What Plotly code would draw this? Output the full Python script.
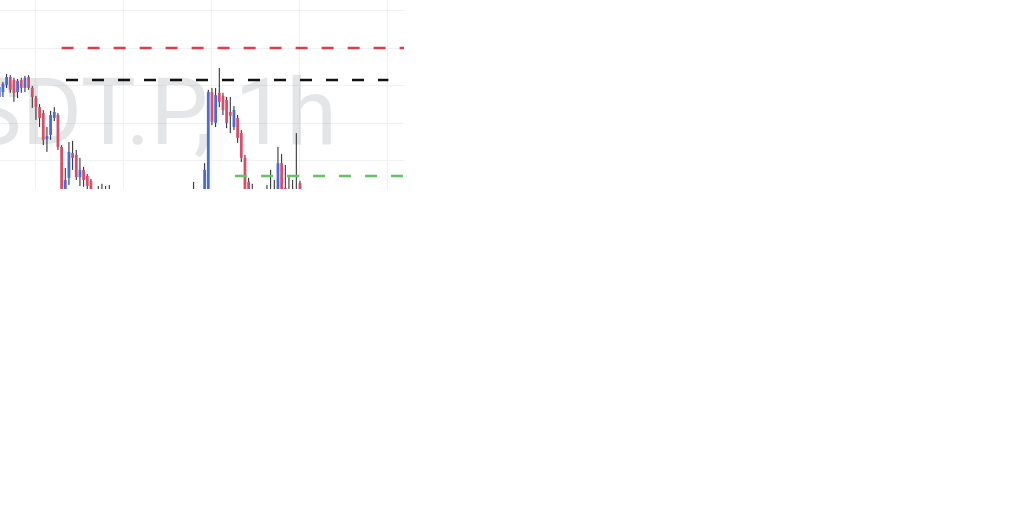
import plotly.graph_objects as go

# ---- data (hourly candles, bar index) ----
idx = list(range(14, 97))

opens = [102.70, 102.83, 103.02, 103.23, 103.15, 102.83, 103.15, 102.94, 103.23, 102.94,
         102.67, 102.43, 102.27, 101.58, 101.69, 102.14, 102.22, 101.37, 100.23, 100.55,
         101.21, 101.16, 100.57, 100.76, 100.60, 100.47, 100.09, 100.17, 100.20, 100.15,
         100.17, 100.04, 99.88, 99.70, 99.78, 99.66, 99.48, 99.55, 99.62, 99.58,
         99.44, 99.52, 99.63, 99.74, 99.67, 99.70, 99.81, 99.76, 99.85, 99.90,
         99.86, 99.95, 100.00, 100.17, 100.09, 100.12, 100.17, 100.09, 102.83, 102.01,
         102.81, 102.73, 102.62, 102.30, 101.90, 102.14, 101.74, 101.08, 100.44, 100.23,
         100.12, 100.00, 100.05, 100.23, 100.23, 100.20, 100.09, 100.94, 100.28, 100.25,
         100.25, 100.23, 100.41]
highs = [103.02, 103.10, 103.31, 103.28, 103.21, 103.18, 103.21, 103.26, 103.28, 102.99,
         102.73, 102.51, 102.35, 101.90, 102.33, 102.43, 102.27, 101.42, 100.81, 101.50,
         101.53, 101.29, 101.08, 100.84, 100.65, 100.52, 100.17, 100.33, 100.39, 100.33,
         100.36, 100.10, 99.95, 99.85, 99.90, 99.72, 99.60, 99.70, 99.75, 99.66,
         99.58, 99.68, 99.80, 99.86, 99.78, 99.88, 99.94, 99.90, 100.00, 100.05,
         100.02, 100.10, 100.14, 100.44, 100.20, 100.22, 100.94, 102.89, 102.94, 102.94,
         103.47, 102.81, 102.70, 102.70, 102.46, 102.22, 101.82, 101.16, 100.55, 100.39,
         100.22, 100.15, 100.20, 100.36, 100.76, 100.49, 101.37, 101.18, 100.89, 100.57,
         100.49, 101.74, 100.47]
lows = [102.62, 102.70, 102.94, 102.81, 102.57, 102.67, 102.81, 102.83, 102.89, 102.41,
        102.09, 101.90, 101.42, 101.24, 101.56, 102.06, 101.29, 99.96, 100.07, 100.36,
        100.76, 100.49, 100.33, 100.31, 100.23, 100.07, 99.83, 99.96, 99.99, 99.93,
        99.91, 99.80, 99.62, 99.55, 99.60, 99.40, 99.35, 99.45, 99.50, 99.38,
        99.30, 99.46, 99.55, 99.60, 99.52, 99.62, 99.70, 99.65, 99.74, 99.80,
        99.75, 99.85, 99.90, 99.96, 99.95, 99.98, 100.07, 100.01, 101.95, 101.90,
        102.43, 102.22, 101.87, 101.74, 101.82, 101.48, 100.97, 100.09, 100.07, 100.01,
        99.90, 99.85, 99.92, 100.01, 99.96, 100.01, 100.01, 100.07, 100.07, 100.04,
        100.04, 100.01, 100.04]
closes = [102.97, 103.05, 103.23, 102.89, 102.81, 103.13, 102.94, 103.21, 102.94, 102.70,
          102.43, 102.14, 101.56, 101.66, 102.22, 102.30, 101.37, 100.09, 100.49, 101.24,
          101.08, 100.57, 100.76, 100.49, 100.33, 100.17, 99.96, 100.09, 100.12, 100.07,
          100.04, 99.88, 99.70, 99.78, 99.66, 99.48, 99.55, 99.62, 99.58, 99.44,
          99.52, 99.63, 99.74, 99.67, 99.70, 99.81, 99.76, 99.85, 99.90, 99.86,
          99.95, 100.00, 100.05, 100.09, 100.12, 100.16, 100.76, 102.83, 102.04, 102.75,
          102.57, 102.35, 102.01, 102.20, 102.35, 101.61, 101.08, 100.23, 100.17, 100.12,
          100.00, 100.05, 100.10, 100.12, 100.09, 100.15, 100.94, 100.17, 100.17, 100.15,
          100.17, 100.15, 100.17]

# horizontal levels: price, start bar, end bar, colour
level_prices = [104.00, 103.15, 100.60]
level_start = [31.0, 32.2, 78.3]
level_end = [140.0, 120.1, 140.0]
level_colors = ["#dd3e48", "#111111", "#6abf69"]

watermark = "BTCUSDT.P, 1h"

UP = "#4a6cd6"
DOWN = "#d4506a"
WICK = "#222222"

fig = go.Figure()

# watermark (drawn first so it sits beneath the candles)
fig.add_trace(go.Scatter(
    x=[106.1], y=[102.05], mode="text", text=[watermark],
    textposition="middle left",
    textfont=dict(family="Roboto", size=92, color="rgba(120,123,134,0.2)"),
    hoverinfo="skip", showlegend=False))

# wicks
wx, wy = [], []
for i, h, l in zip(idx, highs, lows):
    wx += [i, i, None]
    wy += [l, h, None]
fig.add_trace(go.Scatter(x=wx, y=wy, mode="lines",
                         line=dict(color=WICK, width=1),
                         hoverinfo="skip", showlegend=False))

# bodies (thick vertical segments from open to close)
MIN_BODY = 0.02
for want_up, col in ((False, DOWN), (True, UP)):
    bx, by = [], []
    for i, o, c in zip(idx, opens, closes):
        if (c >= o) != want_up:
            continue
        lo, hi = min(o, c), max(o, c)
        if hi - lo < MIN_BODY:
            hi = lo + MIN_BODY
        bx += [i, i, None]
        by += [lo, hi, None]
    fig.add_trace(go.Scatter(x=bx, y=by, mode="lines",
                             line=dict(color=col, width=2.8),
                             hoverinfo="skip", showlegend=False))

for p, s, e, c in zip(level_prices, level_start, level_end, level_colors):
    fig.add_trace(go.Scatter(x=[s, e], y=[p, p], mode="lines",
                             line=dict(color=c, width=2.5, dash="12px,14px"),
                             hoverinfo="skip", showlegend=False))

fig.update_layout(
    width=1024, height=517,
    margin=dict(l=0, r=620, t=0, b=328, pad=0),
    paper_bgcolor="white", plot_bgcolor="white",
    showlegend=False,
    xaxis=dict(range=[14.2, 124.37], tick0=0, dtick=24, showgrid=True,
               gridcolor="#f0f1f4", gridwidth=1, zeroline=False,
               showticklabels=False, ticks="",
               showline=False, fixedrange=True),
    yaxis=dict(range=[100.252, 105.279], tick0=0, dtick=1, showgrid=True,
               gridcolor="#f0f1f4", gridwidth=1, zeroline=False,
               showticklabels=False, ticks="", showline=False, fixedrange=True),
)

fig.write_html("out.html", config={"displayModeBar": False},
               post_script="document.body.style.margin='0';")
